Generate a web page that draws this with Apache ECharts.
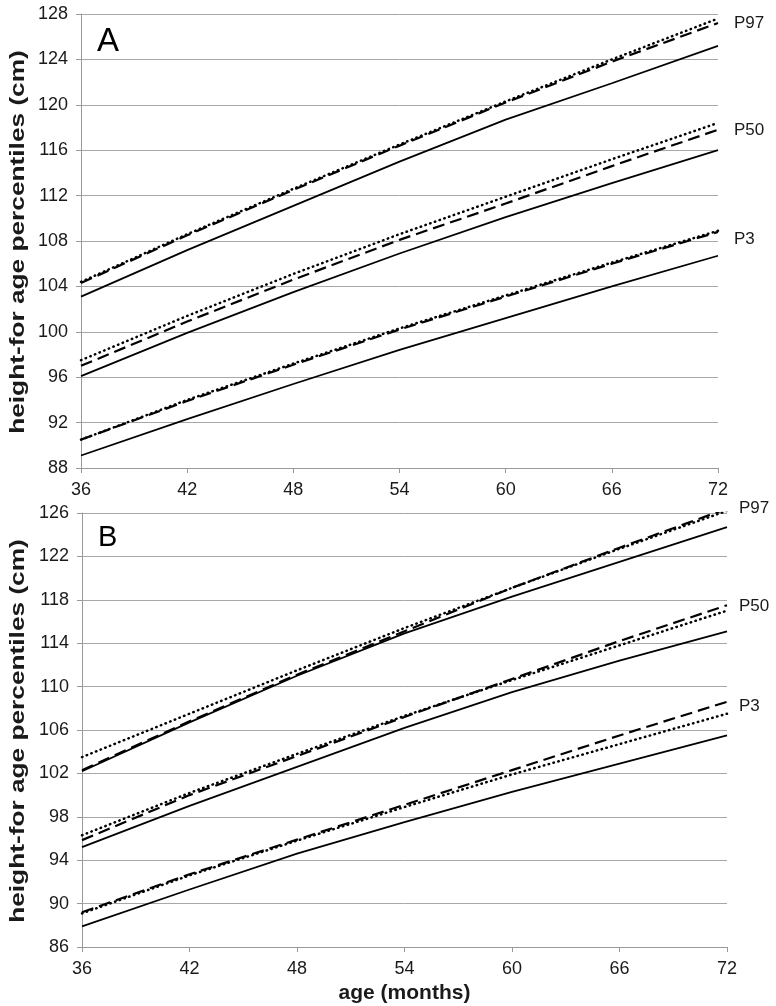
<!DOCTYPE html>
<html><head><meta charset="utf-8">
<script src="https://cdn.jsdelivr.net/npm/echarts@6/dist/echarts.min.js"></script>
<style>html,body{margin:0;padding:0;background:#fff}#c{width:776px;height:1006px}</style>
</head><body><div id="c"></div>
<script>
// ---- data ----
const ages = [36, 42, 48, 54, 60, 66, 72];
const xTicks = [36, 42, 48, 54, 60, 66, 72];
const yTicksA = [88, 92, 96, 100, 104, 108, 112, 116, 120, 124, 128];
const yTicksB = [86, 90, 94, 98, 102, 106, 110, 114, 118, 122, 126];
const groupNames = ['P97', 'P50', 'P3'];
const panelNames = ['A', 'B'];
const yTitle = 'height-for age percentiles (cm)';
const xTitle = 'age (months)';

// Panel A
const A_P97_solid  = [103.1, 107.2, 111.1, 115.0, 118.7, 121.9, 125.2];
const A_P97_dashed = [104.3, 108.5, 112.5, 116.4, 120.2, 123.8, 127.2];
const A_P97_dotted = [104.4, 108.6, 112.6, 116.5, 120.3, 124.0, 127.6];
const A_P50_solid  = [96.1, 99.9, 103.5, 106.9, 110.1, 113.1, 116.0];
const A_P50_dashed = [97.0, 100.9, 104.6, 108.1, 111.3, 114.6, 117.8];
const A_P50_dotted = [97.5, 101.4, 105.1, 108.6, 111.9, 115.2, 118.4];
const A_P3_solid   = [89.1, 92.3, 95.4, 98.4, 101.2, 104.0, 106.7];
const A_P3_dashed  = [90.5, 93.9, 97.1, 100.2, 103.1, 106.0, 108.8];
const A_P3_dotted  = [90.5, 94.0, 97.2, 100.3, 103.2, 106.1, 108.9];

// Panel B
const B_P97_solid  = [102.2, 106.7, 111.0, 114.9, 118.3, 121.5, 124.7];
const B_P97_dashed = [102.3, 106.8, 111.1, 115.1, 119.1, 122.8, 126.4];
const B_P97_dotted = [103.5, 107.5, 111.5, 115.4, 119.1, 122.7, 126.2];
const B_P50_solid  = [95.2, 99.0, 102.6, 106.2, 109.5, 112.4, 115.1];
const B_P50_dashed = [95.85, 100.0, 103.6, 107.2, 110.7, 114.2, 117.5];
const B_P50_dotted = [96.3, 100.2, 103.8, 107.3, 110.6, 113.8, 117.0];
const B_P3_solid   = [87.9, 91.3, 94.6, 97.5, 100.3, 102.9, 105.5];
const B_P3_dashed  = [89.2, 92.7, 95.9, 99.1, 102.3, 105.5, 108.6];
const B_P3_dotted  = [89.1, 92.6, 95.8, 98.9, 101.9, 104.7, 107.5];

// ---- styling ----
const FONT = '"Liberation Sans", Arial, Helvetica, sans-serif';
const TXT = '#1a1a1a';
const GRIDC = '#a8a8a8';
const styles = {
  solid:  { color: '#000', width: 1.8, type: 'solid' },
  dashed: { color: '#000', width: 2.2, type: [12, 6] },
  dotted: { color: '#000', width: 2.5, type: [0.5, 4.5], cap: 'round' }
};

const panels = [
  { groups: [
      [A_P97_solid, A_P97_dashed, A_P97_dotted],
      [A_P50_solid, A_P50_dashed, A_P50_dotted],
      [A_P3_solid, A_P3_dashed, A_P3_dotted]],
    labelOffsets: [[0, 0], [0, 1], [0, 7]], labelDist: 16 },
  { groups: [
      [B_P97_solid, B_P97_dashed, B_P97_dotted],
      [B_P50_solid, B_P50_dashed, B_P50_dotted],
      [B_P3_solid, B_P3_dashed, B_P3_dotted]],
    labelOffsets: [[0, 0], [0, 1], [0, 5]], labelDist: 12 }
];

const series = [];
panels.forEach((p, pi) => {
  p.groups.forEach((g, gi) => {
    ['solid', 'dashed', 'dotted'].forEach((kind, ki) => {
      const s = {
        type: 'line', xAxisIndex: pi, yAxisIndex: pi,
        data: ages.map((a, i) => [a, g[ki][i]]),
        showSymbol: false, symbol: 'none', silent: true,
        lineStyle: styles[kind], z: 3 - ki
      };
      if (kind === 'dashed') {
        s.endLabel = { show: true, formatter: groupNames[gi], distance: p.labelDist,
          offset: p.labelOffsets[gi], color: TXT, fontSize: 17, fontFamily: FONT };
      }
      series.push(s);
    });
  });
});

function xAxis(gi) {
  return {
    type: 'value', gridIndex: gi, min: xTicks[0], max: xTicks[xTicks.length - 1], interval: 6,
    axisLine: { show: true, lineStyle: { color: '#999', width: 1 } },
    axisTick: { show: true, length: 5, lineStyle: { color: '#999' } },
    axisLabel: { color: TXT, fontSize: 18, fontFamily: FONT, margin: 13 },
    splitLine: { show: false },
    name: gi === 1 ? xTitle : '', nameLocation: 'middle', nameGap: 36,
    nameTextStyle: { color: TXT, fontSize: 21, fontWeight: 'bold', fontFamily: FONT }
  };
}
function yAxis(gi, ticks) {
  return {
    type: 'value', gridIndex: gi, min: ticks[0], max: ticks[ticks.length - 1], interval: 4,
    axisLine: { show: true, lineStyle: { color: '#999', width: 1 } },
    axisTick: { show: true, length: 5, lineStyle: { color: '#999' }, customValues: ticks },
    axisLabel: { color: TXT, fontSize: 18, fontFamily: FONT, margin: 13, customValues: ticks },
    splitLine: { show: true, lineStyle: { color: GRIDC, width: 1 } }
  };
}

function yTitleGraphic(cy) {
  return { type: 'text', x: 18, y: cy, rotation: Math.PI / 2, scaleX: 1.25,
    style: { text: yTitle, align: 'center', verticalAlign: 'middle', fontSize: 21,
      fontWeight: 'bold', fontFamily: FONT, fill: TXT } };
}

const chart = echarts.init(document.getElementById('c'), null, { renderer: 'canvas' });
chart.setOption({
  animation: false,
  backgroundColor: '#fff',
  grid: [
    { left: 81, top: 14, width: 637, height: 454 },
    { left: 82, top: 513, width: 645, height: 434 }
  ],
  xAxis: [xAxis(0), xAxis(1)],
  yAxis: [yAxis(0, yTicksA), yAxis(1, yTicksB)],
  graphic: [
    yTitleGraphic(242),
    yTitleGraphic(731),
    { type: 'text', left: 97, top: 25, style: { text: panelNames[0], fontSize: 33, fontFamily: FONT, fill: '#000' } },
    { type: 'text', left: 98, top: 523, style: { text: panelNames[1], fontSize: 29, fontFamily: FONT, fill: '#000' } }
  ],
  series: series
});
</script></body></html>
